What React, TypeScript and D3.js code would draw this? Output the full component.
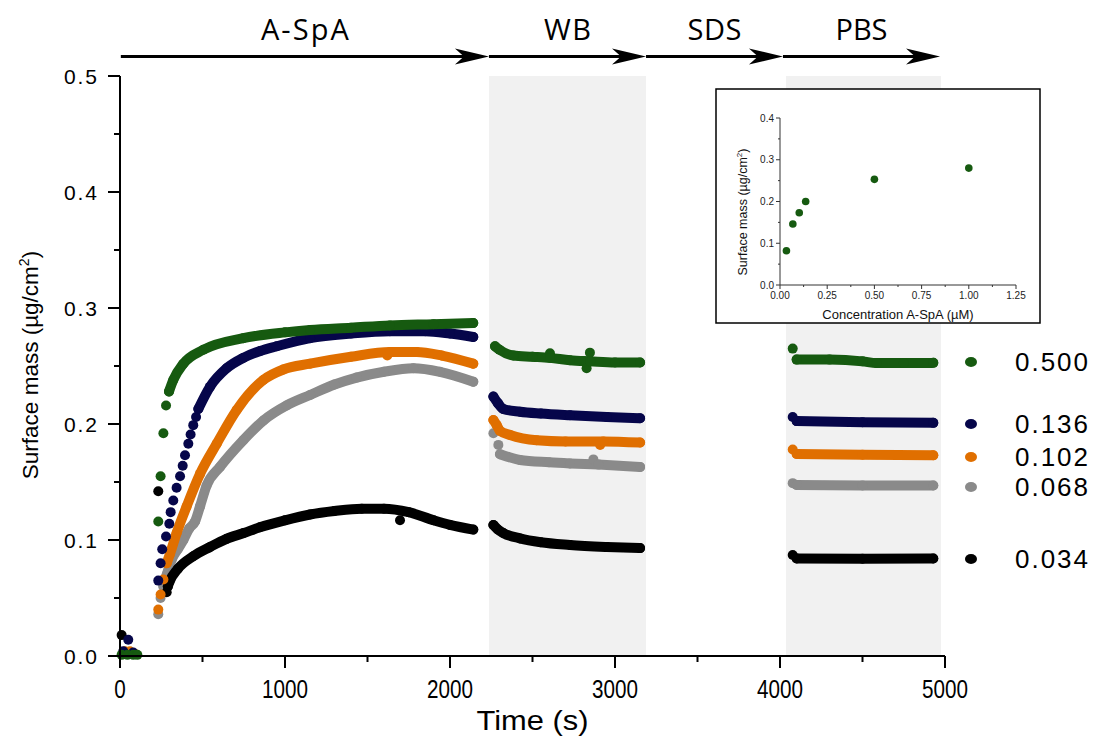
import React from "react";
import * as d3 from "d3";

type P = [number, number];

const W = 1093;
const H = 738;

// ---- legend / series ----
const concentrations = ["0.500", "0.136", "0.102", "0.068", "0.034"];
const seriesColors = ["#165a10", "#06064a", "#e06f00", "#8a8a8a", "#000000"];
const legendY = [362, 424, 457, 487, 559];

// ---- 0.500 µM ----
const s500Start: P[] = [[10, 0.001], [45, 0.001], [80, 0.001], [105, 0.001]];
const s500Rise: P[] = [[232, 0.116], [246, 0.155], [263, 0.192], [279, 0.216]];
const s500ASpA: P[] = [[297, 0.228], [323, 0.238], [384, 0.252], [505, 0.264], [747, 0.274], [1000, 0.279], [1152, 0.281], [1400, 0.283], [1636, 0.285], [1900, 0.286], [2141, 0.287]];
const s500WB: P[] = [[2273, 0.267], [2300, 0.264], [2384, 0.259], [2500, 0.258], [2606, 0.257], [2727, 0.255], [2850, 0.254], [3000, 0.253], [3152, 0.253]];
const s500PBS: P[] = [[4101, 0.2555], [4300, 0.2555], [4500, 0.254], [4586, 0.2525], [4750, 0.2525], [4929, 0.2527]];
const s500Extra: P[] = [[2606, 0.261], [2828, 0.248], [2848, 0.2615], [4077, 0.265]];

// ---- 0.136 µM ----
const s136Start: P[] = [[20, 0.004], [50, 0.014], [80, 0.003]];
const s136Rise: P[] = [[232, 0.065], [246, 0.080], [256, 0.092], [279, 0.103], [299, 0.114], [307, 0.124], [323, 0.134], [343, 0.145], [364, 0.155], [380, 0.164], [394, 0.173], [414, 0.183], [428, 0.191], [444, 0.199], [461, 0.206]];
const s136ASpA: P[] = [[475, 0.213], [545, 0.232], [646, 0.248], [747, 0.257], [850, 0.263], [950, 0.267], [1152, 0.274], [1400, 0.278], [1636, 0.280], [1850, 0.280], [2000, 0.278], [2141, 0.275]];
const s136WB: P[] = [[2263, 0.2236], [2290, 0.218], [2323, 0.213], [2424, 0.2106], [2550, 0.209], [2727, 0.2075], [2950, 0.206], [3152, 0.205]];
const s136PBS: P[] = [[4101, 0.2025], [4500, 0.2015], [4929, 0.201]];
const s136Extra: P[] = [[4077, 0.206]];

// ---- 0.102 µM ----
const s102Start: P[] = [[30, 0.004], [60, 0.004], [90, 0.002]];
const s102Rise: P[] = [[232, 0.040], [246, 0.053], [263, 0.066]];
const s102ASpA: P[] = [[283, 0.080], [303, 0.088], [343, 0.106], [404, 0.129], [485, 0.157], [586, 0.183], [707, 0.212], [869, 0.238], [990, 0.247], [1152, 0.252], [1400, 0.258], [1636, 0.262], [1798, 0.262], [1950, 0.259], [2141, 0.252]];
const s102WB: P[] = [[2263, 0.2034], [2283, 0.199], [2303, 0.194], [2364, 0.1905], [2525, 0.186], [2700, 0.185], [2929, 0.185], [3152, 0.184]];
const s102PBS: P[] = [[4101, 0.1742], [4500, 0.1735], [4929, 0.173]];
const s102Extra: P[] = [[1620, 0.259], [2910, 0.182], [4077, 0.178]];

// ---- 0.068 µM ----
const s068Start: P[] = [[40, 0.003]];
const s068Rise: P[] = [[232, 0.036], [246, 0.050]];
const s068ASpA: P[] = [[263, 0.060], [283, 0.070], [313, 0.083], [350, 0.092], [384, 0.100], [420, 0.110], [455, 0.116], [485, 0.129], [525, 0.147], [606, 0.163], [747, 0.186], [869, 0.203], [1010, 0.216], [1152, 0.225], [1300, 0.234], [1434, 0.240], [1600, 0.245], [1778, 0.248], [1939, 0.245], [2141, 0.2365]];
const s068WB: P[] = [[2303, 0.174], [2424, 0.169], [2600, 0.167], [2727, 0.166], [2900, 0.165], [3152, 0.163]];
const s068PBS: P[] = [[4101, 0.1475], [4500, 0.147], [4929, 0.147]];
const s068Extra: P[] = [[2263, 0.192], [2293, 0.182], [2869, 0.1695], [4077, 0.149]];

// ---- 0.034 µM ----
const s034Start: P[] = [[10, 0.018]];
const s034Rise: P[] = [[232, 0.142], [283, 0.055]];
const s034ASpA: P[] = [[290, 0.060], [300, 0.064], [350, 0.075], [444, 0.086], [546, 0.094], [646, 0.101], [750, 0.106], [848, 0.111], [1000, 0.117], [1152, 0.122], [1300, 0.125], [1465, 0.127], [1600, 0.127], [1750, 0.124], [1900, 0.117], [2000, 0.113], [2141, 0.109]];
const s034WB: P[] = [[2263, 0.113], [2290, 0.109], [2323, 0.106], [2424, 0.1014], [2550, 0.098], [2727, 0.0957], [2950, 0.094], [3152, 0.093]];
const s034PBS: P[] = [[4101, 0.084], [4500, 0.0838], [4929, 0.084]];
const s034Extra: P[] = [[1697, 0.117], [4077, 0.087]];

// ---- phases ----
const phaseNames = ["A-SpA", "WB", "SDS", "PBS"];
const phaseStart = [5, 2236, 3188, 4018];
const phaseEnd = [2236, 3188, 4018, 4970];
const phaseLabelWidth = [88, 47, 54, 52];
const shadedStart = [2236, 4036];
const shadedEnd = [3188, 4976];

// ---- axes ----
const xTicks = [0, 1000, 2000, 3000, 4000, 5000];
const xMinor = [500, 1500, 2500, 3500, 4500];
const yTicks = [0, 0.1, 0.2, 0.3, 0.4, 0.5];
const yMinor = [0.05, 0.15, 0.25, 0.35, 0.45];

// ---- inset ----
const insetConc = [0.034, 0.068, 0.102, 0.136, 0.5, 1.0];
const insetMass = [0.082, 0.146, 0.173, 0.2, 0.253, 0.28];
const insetXTicks = [0, 0.25, 0.5, 0.75, 1.0, 1.25];
const insetXMinor = [0.125, 0.375, 0.625, 0.875, 1.125];
const insetYTicks = [0, 0.1, 0.2, 0.3, 0.4];
const insetYMinor = [0.05, 0.15, 0.25, 0.35];

const seriesData = [
  { start: s500Start, rise: s500Rise, dense: [s500ASpA, s500WB, s500PBS], extra: s500Extra },
  { start: s136Start, rise: s136Rise, dense: [s136ASpA, s136WB, s136PBS], extra: s136Extra },
  { start: s102Start, rise: s102Rise, dense: [s102ASpA, s102WB, s102PBS], extra: s102Extra },
  { start: s068Start, rise: s068Rise, dense: [s068ASpA, s068WB, s068PBS], extra: s068Extra },
  { start: s034Start, rise: s034Rise, dense: [s034ASpA, s034WB, s034PBS], extra: s034Extra },
];
// drawing order: grey, black, orange, navy, green
const drawOrder = [3, 4, 2, 1, 0];

const FONT = "'Liberation Sans', Arial, sans-serif";

export default function App() {
  const x = d3.scaleLinear().domain([0, 5000]).range([120, 945]);
  const y = d3.scaleLinear().domain([0, 0.5]).range([656, 76]);
  const line = d3
    .line<P>()
    .x((d) => x(d[0]))
    .y((d) => y(d[1]))
    .curve(d3.curveMonotoneX);

  const ix = d3.scaleLinear().domain([0, 1.25]).range([780, 1016]);
  const iy = d3.scaleLinear().domain([0, 0.4]).range([285, 118]);

  const R = 5;
  const arrowY = 56.5;

  return (
    <svg width={W} height={H} style={{ display: "block", position: "absolute", left: 0, top: 0 }}>
      <rect x={0} y={0} width={W} height={H} fill="#fff" />
      {/* shaded phases */}
      {shadedStart.map((s, i) => (
        <rect key={"sh" + i} x={x(s)} y={y(0.5)} width={x(shadedEnd[i]) - x(s)} height={y(0) - y(0.5)} fill="#f1f1f1" />
      ))}

      {/* arrows */}
      {phaseNames.map((n, i) => {
        const xs = x(phaseStart[i]);
        const xe = x(phaseEnd[i]);
        return (
          <g key={"ar" + i}>
            <line x1={xs} x2={xe - 20} y1={arrowY} y2={arrowY} stroke="#000" strokeWidth={3} />
            <polygon
              points={`${xe},${arrowY} ${xe - 34},${arrowY - 8} ${xe - 25},${arrowY} ${xe - 34},${arrowY + 8}`}
              fill="#000"
            />
            <text
              x={(xs + xe) / 2}
              y={40}
              textAnchor="middle"
              fontFamily="'Open Sans', sans-serif"
              fontSize={29}
              textLength={phaseLabelWidth[i]}
              lengthAdjust="spacing"
              fill="#000"
            >
              {n}
            </text>
          </g>
        );
      })}

      {/* series */}
      {drawOrder.map((si) => {
        const s = seriesData[si];
        const c = seriesColors[si];
        return (
          <g key={"s" + si}>
            {s.dense.map((seg, k) => (
              <path key={"l" + k} d={line(seg) || ""} fill="none" stroke={c} strokeWidth={2 * R} strokeLinecap="round" strokeLinejoin="round" />
            ))}
            {[...s.start, ...s.rise, ...s.extra, ...s.dense.flat()].map((p, k) => (
              <circle key={"c" + k} cx={x(p[0])} cy={y(p[1])} r={R} fill={c} />
            ))}
          </g>
        );
      })}

      {/* axes */}
      <g stroke="#000" strokeWidth={2}>
        <line x1={x(0)} x2={x(0)} y1={y(0.5)} y2={y(0)} />
        <line x1={x(0)} x2={x(5000)} y1={y(0)} y2={y(0)} />
        {yTicks.map((t) => (
          <line key={"yt" + t} x1={x(0) - 12} x2={x(0)} y1={y(t)} y2={y(t)} />
        ))}
        {yMinor.map((t) => (
          <line key={"ym" + t} x1={x(0) - 6} x2={x(0)} y1={y(t)} y2={y(t)} />
        ))}
        {xTicks.map((t) => (
          <line key={"xt" + t} x1={x(t)} x2={x(t)} y1={y(0)} y2={y(0) + 12} />
        ))}
        {xMinor.map((t) => (
          <line key={"xm" + t} x1={x(t)} x2={x(t)} y1={y(0)} y2={y(0) + 6} />
        ))}
      </g>
      {yTicks.map((t) => (
        <text key={"yl" + t} x={97} y={y(t) + 7.5} textAnchor="end" fontFamily={FONT} fontSize={21} textLength={33} lengthAdjust="spacing" fill="#000">
          {t.toFixed(1)}
        </text>
      ))}
      {xTicks.map((t) => (
        <text
          key={"xl" + t}
          x={x(t)}
          y={698}
          textAnchor="middle"
          fontFamily={FONT}
          fontSize={26}
          textLength={String(t).length * 11.5}
          lengthAdjust="spacingAndGlyphs"
          fill="#000"
        >
          {String(t)}
        </text>
      ))}
      <text x={(x(0) + x(5000)) / 2} y={730} textAnchor="middle" fontFamily={FONT} fontSize={27} textLength={112} lengthAdjust="spacingAndGlyphs" fill="#000">
        Time (s)
      </text>
      <text transform={`translate(38, ${365}) rotate(-90)`} textAnchor="middle" fontFamily={FONT} fontSize={22.5} fill="#000">
        Surface mass (µg/cm<tspan dy={-9} fontSize={14}>2</tspan>
        <tspan dy={9}>)</tspan>
      </text>

      {/* legend */}
      {concentrations.map((c, i) => (
        <g key={"lg" + i}>
          <ellipse cx={971} cy={legendY[i]} rx={6} ry={5} fill={seriesColors[i]} />
          <text x={1015} y={legendY[i] + 9} fontFamily={FONT} fontSize={26} textLength={73} lengthAdjust="spacing" fill="#000">
            {c}
          </text>
        </g>
      ))}

      {/* inset */}
      <rect x={716} y={89} width={324} height={234} fill="#fff" stroke="#000" strokeWidth={1.5} />
      <g stroke="#333" strokeWidth={1}>
        <line x1={ix(0)} x2={ix(0)} y1={iy(0.4)} y2={iy(0)} />
        <line x1={ix(0)} x2={ix(1.25)} y1={iy(0)} y2={iy(0)} />
        {insetYTicks.map((t) => (
          <line key={"iyt" + t} x1={ix(0) - 4} x2={ix(0)} y1={iy(t)} y2={iy(t)} />
        ))}
        {insetYMinor.map((t) => (
          <line key={"iym" + t} x1={ix(0) - 2} x2={ix(0)} y1={iy(t)} y2={iy(t)} />
        ))}
        {insetXTicks.map((t) => (
          <line key={"ixt" + t} x1={ix(t)} x2={ix(t)} y1={iy(0)} y2={iy(0) + 4} />
        ))}
        {insetXMinor.map((t) => (
          <line key={"ixm" + t} x1={ix(t)} x2={ix(t)} y1={iy(0)} y2={iy(0) + 2} />
        ))}
      </g>
      {insetYTicks.map((t) => (
        <text key={"iyl" + t} x={ix(0) - 6} y={iy(t) + 3.5} textAnchor="end" fontFamily={FONT} fontSize={10} fill="#222">
          {t.toFixed(1)}
        </text>
      ))}
      {insetXTicks.map((t) => (
        <text key={"ixl" + t} x={ix(t)} y={iy(0) + 14} textAnchor="middle" fontFamily={FONT} fontSize={10} fill="#222">
          {t.toFixed(2)}
        </text>
      ))}
      <text x={(ix(0) + ix(1.25)) / 2} y={319} textAnchor="middle" fontFamily={FONT} fontSize={13} fill="#111">
        Concentration A-SpA (µM)
      </text>
      <text transform={`translate(747, ${212}) rotate(-90)`} textAnchor="middle" fontFamily={FONT} fontSize={12.5} fill="#111">
        Surface mass (µg/cm<tspan dy={-5} fontSize={8}>2</tspan>
        <tspan dy={5}>)</tspan>
      </text>
      {insetConc.map((c, i) => (
        <circle key={"ip" + i} cx={ix(c)} cy={iy(insetMass[i])} r={3.8} fill={seriesColors[0]} />
      ))}
    </svg>
  );
}
